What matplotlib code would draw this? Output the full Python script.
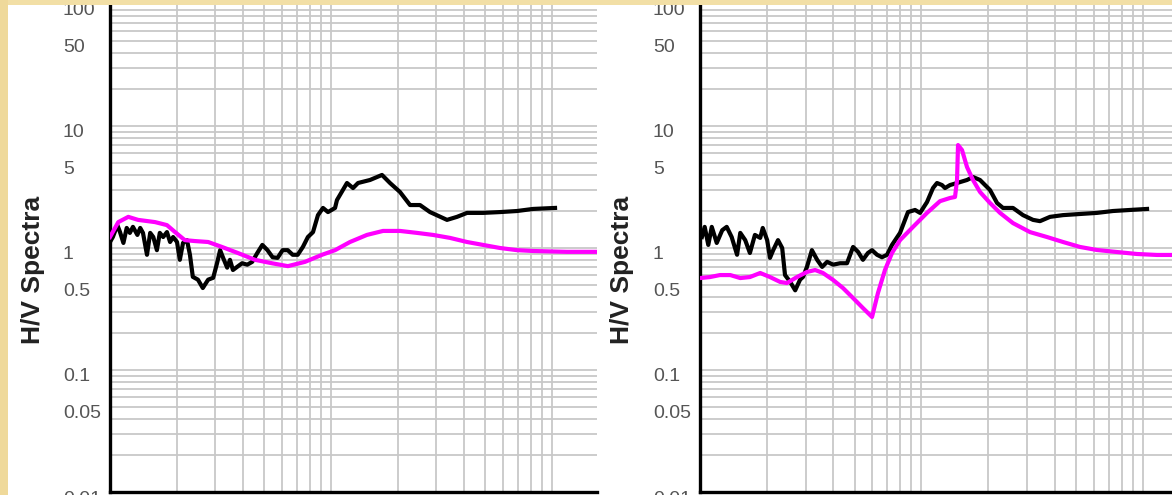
import numpy as np
import matplotlib.pyplot as plt
import matplotlib.transforms as mtransforms
from matplotlib.patches import Rectangle
from matplotlib.ticker import LogLocator, FixedLocator, NullFormatter

plt.rcParams['font.family'] = ['Liberation Sans', 'DejaVu Sans']

# y ticks shared by both panels
ytick_vals = [0.01, 0.05, 0.1, 0.5, 1, 5, 10, 50, 100]
ytick_text = ['0.01', '0.05', '0.1', '0.5', '1', '5', '10', '50', '100']

# panel A: observed H/V (black) and model (magenta)
freq_obs_a = [0.100, 0.103, 0.108, 0.111, 0.115, 0.119, 0.123, 0.127, 0.133, 0.137,
              0.141, 0.147, 0.152, 0.157, 0.163, 0.168, 0.174, 0.181, 0.187, 0.193,
              0.201, 0.207, 0.214, 0.223, 0.230, 0.237, 0.250, 0.263, 0.278, 0.293,
              0.305, 0.315, 0.325, 0.339, 0.349, 0.360, 0.376, 0.396, 0.418, 0.440,
              0.464, 0.489, 0.516, 0.544, 0.573, 0.604, 0.637, 0.671, 0.707, 0.746,
              0.786, 0.829, 0.873, 0.920, 0.969, 1.043, 1.064, 1.181, 1.258, 1.325,
              1.501, 1.701, 1.849, 2.051, 2.278, 2.527, 2.805, 3.349, 3.716, 4.125,
              4.873, 5.817, 6.945, 8.204, 10.32]
hv_obs_a = [1.12, 1.23, 1.54, 1.35, 1.10, 1.46, 1.33, 1.49, 1.28, 1.46,
            1.33, 0.88, 1.33, 1.23, 0.96, 1.33, 1.23, 1.35, 1.12, 1.23,
            1.12, 0.80, 1.10, 1.16, 0.88, 0.58, 0.55, 0.47, 0.55, 0.57,
            0.75, 0.96, 0.83, 0.69, 0.80, 0.66, 0.70, 0.75, 0.73, 0.77,
            0.91, 1.06, 0.96, 0.84, 0.83, 0.96, 0.96, 0.88, 0.88, 1.02,
            1.23, 1.35, 1.86, 2.13, 1.97, 2.13, 2.47, 3.41, 3.10, 3.41,
            3.61, 3.97, 3.41, 2.88, 2.25, 2.25, 1.97, 1.70, 1.80, 1.94,
            1.94, 1.97, 2.01, 2.09, 2.13]
freq_fit_a = [0.100, 0.109, 0.121, 0.134, 0.160, 0.181, 0.197, 0.218, 0.242, 0.278,
              0.321, 0.379, 0.453, 0.540, 0.638, 0.763, 0.911, 1.043, 1.219, 1.454,
              1.719, 2.051, 2.449, 2.894, 3.455, 4.125, 4.873, 5.817, 6.945, 8.204,
              11.69, 15.98, 20.0]
hv_fit_a = [1.23, 1.63, 1.80, 1.70, 1.63, 1.54, 1.35, 1.16, 1.14, 1.12,
            1.02, 0.91, 0.80, 0.75, 0.71, 0.77, 0.88, 0.96, 1.12, 1.28,
            1.38, 1.38, 1.33, 1.28, 1.21, 1.12, 1.06, 1.00, 0.96, 0.945,
            0.93, 0.93, 0.93]

# panel B
freq_obs_b = [0.102, 0.105, 0.109, 0.113, 0.119, 0.126, 0.132, 0.139, 0.147, 0.152,
              0.160, 0.168, 0.177, 0.187, 0.192, 0.201, 0.207, 0.214, 0.225, 0.235,
              0.242, 0.255, 0.269, 0.283, 0.292, 0.304, 0.320, 0.338, 0.356, 0.375,
              0.399, 0.429, 0.461, 0.491, 0.517, 0.544, 0.573, 0.598, 0.630, 0.663,
              0.699, 0.736, 0.800, 0.869, 0.935, 0.985, 1.059, 1.127, 1.175, 1.238,
              1.277, 1.345, 1.447, 1.605, 1.708, 1.837, 2.038, 2.193, 2.333, 2.588,
              2.872, 3.188, 3.428, 3.803, 4.354, 5.195, 6.199, 7.318, 8.735, 10.43]
hv_obs_b = [1.23, 1.49, 1.06, 1.49, 1.10, 1.40, 1.49, 1.23, 0.88, 1.33,
            1.16, 0.91, 1.28, 1.21, 1.46, 1.16, 0.83, 0.96, 1.16, 1.00,
            0.60, 0.53, 0.45, 0.55, 0.58, 0.70, 0.96, 0.80, 0.70, 0.77,
            0.73, 0.75, 0.75, 1.02, 0.93, 0.80, 0.91, 0.96, 0.88, 0.84,
            0.88, 1.06, 1.33, 1.97, 2.05, 1.94, 2.38, 3.10, 3.41, 3.28,
            3.10, 3.28, 3.41, 3.61, 3.82, 3.61, 2.99, 2.34, 2.13, 2.13,
            1.86, 1.70, 1.66, 1.80, 1.86, 1.90, 1.94, 2.01, 2.05, 2.09]
freq_fit_b = [0.100, 0.111, 0.123, 0.137, 0.152, 0.168, 0.187, 0.207, 0.230, 0.247,
              0.274, 0.304, 0.331, 0.359, 0.399, 0.442, 0.491, 0.544, 0.598, 0.636,
              0.684, 0.736, 0.800, 0.916, 1.059, 1.212, 1.345, 1.417, 1.447, 1.462,
              1.524, 1.605, 1.708, 1.837, 2.038, 2.262, 2.588, 3.090, 3.687, 4.354,
              5.195, 6.199, 7.63, 9.396, 11.57, 20.0]
hv_fit_b = [0.567, 0.578, 0.60, 0.60, 0.567, 0.578, 0.624, 0.578, 0.527, 0.516,
            0.578, 0.636, 0.660, 0.624, 0.547, 0.470, 0.389, 0.322, 0.272, 0.428,
            0.66, 0.91, 1.16, 1.49, 1.94, 2.42, 2.57, 2.62, 3.61, 6.98,
            6.35, 4.61, 3.61, 2.88, 2.34, 1.94, 1.60, 1.35, 1.23, 1.12,
            1.02, 0.963, 0.927, 0.893, 0.877, 0.877]

W, H = 1172, 495
fig = plt.figure(figsize=(W / 100, H / 100), dpi=100)
fig.patch.set_facecolor('#f2dfa6')


def px_rect(x0, y0, x1, y1):
    return [x0 / W, 1 - y1 / H, (x1 - x0) / W, (y1 - y0) / H]


# white slide area behind both panels
fig.patches.append(Rectangle((8 / W, 0), 1, 1 - 5 / H, transform=fig.transFigure,
                             facecolor='white', edgecolor='none', zorder=-1))


def panel(rect, xmax, f_obs, v_obs, f_fit, v_fit, label_x):
    ax = fig.add_axes(rect)
    ax.set_xscale('log')
    ax.set_yscale('log')
    ax.plot(f_obs, v_obs, color='black', lw=3.0, zorder=3)
    ax.plot(f_fit, v_fit, color='#ff00ff', lw=3.0, zorder=4)
    ax.set_xlim(0.1, xmax)
    ax.set_ylim(0.01, 100)
    ax.xaxis.set_major_locator(LogLocator(base=10, numticks=20))
    ax.xaxis.set_minor_locator(LogLocator(base=10, subs=np.arange(2, 10), numticks=50))
    ax.xaxis.set_major_formatter(NullFormatter())
    ax.xaxis.set_minor_formatter(NullFormatter())
    ax.yaxis.set_major_locator(FixedLocator(ytick_vals))
    ax.set_yticklabels(ytick_text)
    ax.yaxis.set_minor_locator(LogLocator(base=10, subs=np.arange(2, 10), numticks=50))
    ax.yaxis.set_minor_formatter(NullFormatter())
    ax.grid(True, which='both', color='#c8c8c8', lw=1.3)
    ax.set_axisbelow(True)
    ax.tick_params(which='both', length=0)
    ax.tick_params(axis='y', pad=34, labelsize=14, labelcolor='#555555')
    for s in ['top', 'right']:
        ax.spines[s].set_visible(False)
    for s in ['left', 'bottom']:
        ax.spines[s].set_linewidth(2.4)
    shift = mtransforms.ScaledTranslation(0, -0.05, fig.dpi_scale_trans)
    for lab in ax.get_yticklabels():
        lab.set_horizontalalignment('left')
        lab.set_transform(lab.get_transform() + shift)
    ax.text(label_x, 0.455, 'H/V Spectra', transform=ax.transAxes, rotation=90,
            ha='center', va='center', fontsize=19, fontweight='bold', color='#222222')
    return ax


panel(px_rect(110, 4, 597, 492), 15.98, freq_obs_a, hv_obs_a, freq_fit_a, hv_fit_a, -0.158)
panel(px_rect(700, 4, 1172, 492), 13.52, freq_obs_b, hv_obs_b, freq_fit_b, hv_fit_b, -0.165)

# slide border strips drawn over the panels
fig.patches.append(Rectangle((0, 1 - 5 / H), 1, 5 / H, transform=fig.transFigure,
                             facecolor='#f2dfa6', edgecolor='none', zorder=10))
fig.patches.append(Rectangle((0, 0), 8 / W, 1, transform=fig.transFigure,
                             facecolor='#efd99a', edgecolor='none', zorder=10))

fig.savefig('out.png', dpi=100, facecolor=fig.get_facecolor())
